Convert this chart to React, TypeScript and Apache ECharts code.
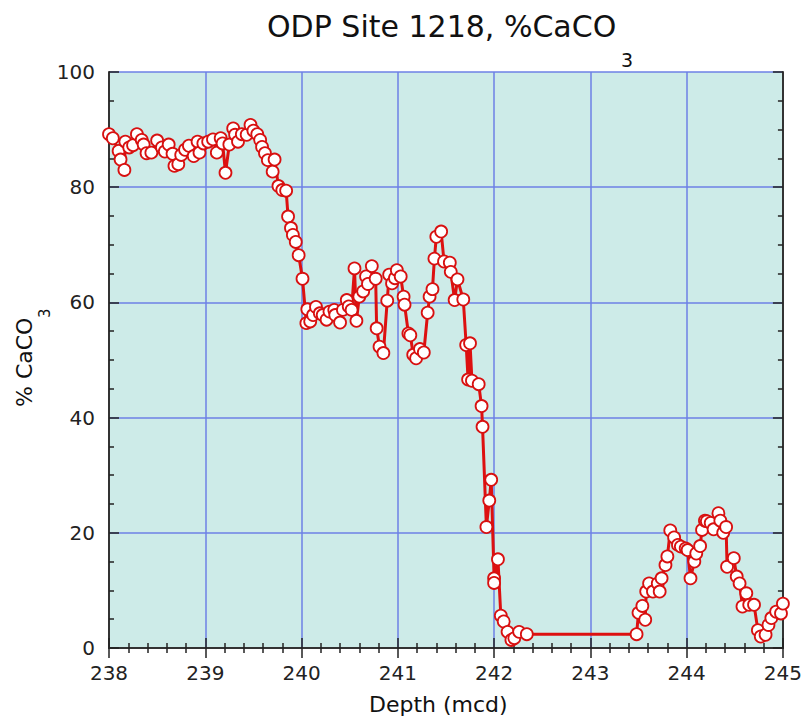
import React, { useEffect, useRef } from "react";
import * as echarts from "echarts";

const depth: number[] = [
  238.00, 238.04, 238.10, 238.12, 238.16, 238.17, 238.21, 238.25, 238.29, 238.34,
  238.36, 238.39, 238.44, 238.50, 238.55, 238.58, 238.62, 238.66, 238.68, 238.72,
  238.75, 238.79, 238.83, 238.88, 238.92, 238.94, 238.98, 239.03, 239.08, 239.12,
  239.16, 239.18, 239.21, 239.25, 239.29, 239.31, 239.34, 239.38, 239.43, 239.47,
  239.50, 239.54, 239.57, 239.59, 239.62, 239.65, 239.70, 239.72, 239.76, 239.80,
  239.84, 239.86, 239.89, 239.91, 239.94, 239.97, 240.01, 240.05, 240.06, 240.09,
  240.12, 240.15, 240.19, 240.22, 240.26, 240.29, 240.34, 240.35, 240.40, 240.43,
  240.47, 240.49, 240.52, 240.55, 240.57, 240.60, 240.64, 240.67, 240.69, 240.73,
  240.77, 240.78, 240.81, 240.85, 240.89, 240.91, 240.94, 240.97, 240.99, 241.03,
  241.06, 241.07, 241.11, 241.13, 241.16, 241.19, 241.23, 241.27, 241.31, 241.33,
  241.36, 241.38, 241.40, 241.45, 241.48, 241.54, 241.55, 241.59, 241.62, 241.68,
  241.71, 241.73, 241.75, 241.77, 241.84, 241.87, 241.88, 241.92, 241.95, 241.97,
  242.00, 242.00, 242.04, 242.07, 242.10, 242.14, 242.18, 242.21, 242.26, 242.34,
  243.48, 243.50, 243.54, 243.57, 243.58, 243.61, 243.65, 243.70, 243.72, 243.74,
  243.78, 243.80, 243.83, 243.87, 243.91, 243.94, 243.99, 244.01, 244.04, 244.08,
  244.10, 244.14, 244.16, 244.19, 244.21, 244.25, 244.28, 244.33, 244.35, 244.38,
  244.41, 244.42, 244.49, 244.52, 244.55, 244.58, 244.62, 244.65, 244.70, 244.74,
  244.77, 244.82, 244.85, 244.88, 244.93, 244.98, 245.00,
];

const caco3: number[] = [
  89.2, 88.5, 86.3, 84.8, 83.0, 87.9, 86.9, 87.3, 89.2, 88.2,
  87.4, 85.9, 86.0, 88.1, 86.9, 86.2, 87.4, 85.8, 83.7, 84.0,
  85.6, 86.5, 87.2, 85.4, 87.9, 86.0, 87.6, 87.9, 88.3, 86.0,
  88.5, 87.6, 82.5, 87.4, 90.2, 89.1, 87.9, 89.2, 89.1, 90.8,
  89.8, 89.2, 88.2, 87.0, 85.9, 84.7, 82.7, 84.8, 80.2, 79.5,
  79.4, 74.9, 72.9, 71.7, 70.5, 68.2, 64.1, 56.4, 58.8, 56.7,
  57.8, 59.2, 58.1, 57.8, 57.0, 58.4, 58.7, 57.8, 56.5, 58.7,
  60.4, 59.3, 58.7, 65.9, 56.8, 61.0, 61.9, 64.5, 63.2, 66.3,
  64.1, 55.5, 52.3, 51.2, 60.3, 64.8, 63.3, 64.2, 65.6, 64.5,
  61.0, 59.6, 54.6, 54.3, 50.9, 50.3, 51.9, 51.3, 58.2, 61.0,
  62.3, 67.6, 71.4, 72.3, 67.1, 66.9, 65.3, 60.4, 64.0, 60.5,
  52.6, 46.6, 52.9, 46.4, 45.8, 42.0, 38.4, 21.0, 25.6, 29.2,
  12.1, 11.3, 15.4, 5.6, 4.6, 2.8, 1.4, 1.7, 2.8, 2.4,
  2.4, 6.1, 7.3, 4.9, 9.8, 11.2, 9.8, 11.2, 9.8, 12.1,
  14.4, 15.9, 20.4, 19.2, 17.9, 17.6, 17.3, 17.0, 12.1, 15.0,
  16.4, 17.7, 20.5, 22.1, 22.0, 21.7, 20.6, 23.4, 22.1, 20.0,
  21.0, 14.1, 15.6, 12.4, 11.2, 7.2, 9.5, 7.5, 7.5, 3.1,
  2.0, 2.3, 4.0, 5.2, 6.3, 6.0, 7.7,
];

const xMin = 238;
const xMax = 245;
const yMin = 0;
const yMax = 100;

const titleText = "ODP Site 1218, %CaCO";
const subText = "3";
const xName = "Depth (mcd)";
const yName = "% CaCO";

const FONT = "DejaVu Sans";

export default function App() {
  const ref = useRef<HTMLDivElement>(null);
  useEffect(() => {
    if (!ref.current) return;
    const chart = echarts.init(ref.current, null, { renderer: "svg" });
    const data = depth.map((d, i) => [d, caco3[i]]);
    const tickCommon = {
      inside: true,
      length: 10,
      lineStyle: { color: "#222", width: 1.5 },
    };
    const minorCommon = (n: number) => ({
      show: true,
      splitNumber: n,
      length: 5,
      lineStyle: { color: "#222", width: 1.5 },
    });
    const axisLine = { show: true, lineStyle: { color: "#333", width: 2 } };
    const splitLine = { show: true, lineStyle: { color: "#6d80e6", width: 1.5 } };
    chart.setOption({
      animation: false,
      backgroundColor: "#ffffff",
      grid: {
        left: 109,
        right: 21,
        top: 72,
        bottom: 74,
        show: true,
        backgroundColor: "#cdebe8",
        borderWidth: 0,
      },
      xAxis: [
        {
          type: "value",
          min: xMin,
          max: xMax,
          interval: 1,
          position: "bottom",
          axisLine,
          axisTick: tickCommon,
          minorTick: minorCommon(5),
          splitLine,
          axisLabel: {
            fontFamily: FONT,
            fontSize: 20,
            color: "#222",
            margin: 15,
          },
        },
        {
          type: "value",
          min: xMin,
          max: xMax,
          interval: 1,
          position: "top",
          axisLine,
          axisTick: tickCommon,
          minorTick: minorCommon(5),
          splitLine: { show: false },
          axisLabel: { show: false },
        },
      ],
      yAxis: [
        {
          type: "value",
          min: yMin,
          max: yMax,
          interval: 20,
          position: "left",
          axisLine,
          axisTick: tickCommon,
          minorTick: minorCommon(4),
          splitLine,
          axisLabel: {
            fontFamily: FONT,
            fontSize: 20,
            color: "#222",
            margin: 14,
          },
        },
        {
          type: "value",
          min: yMin,
          max: yMax,
          interval: 20,
          position: "right",
          axisLine,
          axisTick: tickCommon,
          minorTick: minorCommon(4),
          splitLine: { show: false },
          axisLabel: { show: false },
        },
      ],
      graphic: [
        {
          type: "text",
          left: 267,
          top: 11,
          style: {
            text: titleText,
            fontFamily: FONT,
            fontSize: 30,
            fill: "#111",
          },
        },
        {
          type: "text",
          left: 621,
          top: 50,
          style: {
            text: subText,
            fontFamily: FONT,
            fontSize: 19,
            fill: "#111",
          },
        },
        {
          type: "text",
          left: 369,
          top: 693,
          style: {
            text: xName,
            fontFamily: FONT,
            fontSize: 22,
            fill: "#111",
          },
        },
        {
          type: "text",
          x: 13,
          y: 407,
          rotation: Math.PI / 2,
          style: {
            text: yName,
            fontFamily: FONT,
            fontSize: 22,
            fill: "#111",
            align: "left",
            verticalAlign: "top",
          },
        },
        {
          type: "text",
          x: 37,
          y: 318,
          rotation: Math.PI / 2,
          style: {
            text: subText,
            fontFamily: FONT,
            fontSize: 15,
            fill: "#111",
            align: "left",
            verticalAlign: "top",
          },
        },
      ],
      series: [
        {
          type: "line",
          data,
          xAxisIndex: 0,
          yAxisIndex: 0,
          symbol: "circle",
          symbolSize: 12,
          lineStyle: { color: "#dd1010", width: 3 },
          itemStyle: { color: "#ffffff", borderColor: "#d81010", borderWidth: 1.8 },
          z: 10,
        },
      ],
    });
    return () => chart.dispose();
  }, []);
  return (
    <div
      ref={ref}
      style={{ width: 805, height: 722, position: "absolute", left: 0, top: 0 }}
    />
  );
}
